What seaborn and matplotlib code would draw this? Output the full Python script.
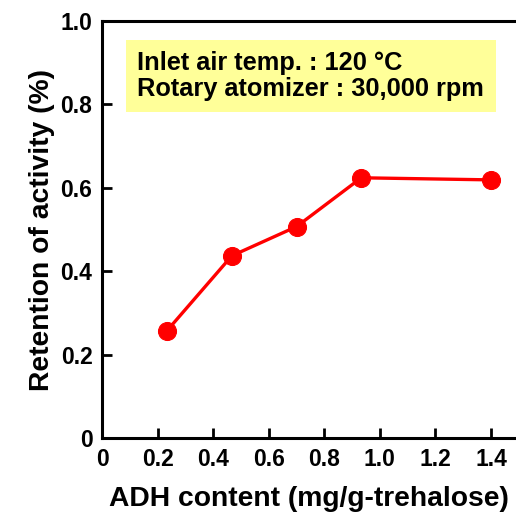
import matplotlib
matplotlib.use("Agg")
import matplotlib.pyplot as plt
import seaborn as sns
import pandas as pd

adh_content = [0.233, 0.467, 0.70, 0.933, 1.40]
retention = [0.257, 0.437, 0.507, 0.624, 0.619]
x_ticks = [0, 0.2, 0.4, 0.6, 0.8, 1.0, 1.2, 1.4]
x_tick_labels = ["0", "0.2", "0.4", "0.6", "0.8", "1.0", "1.2", "1.4"]
y_ticks = [0, 0.2, 0.4, 0.6, 0.8, 1.0]
y_tick_labels = ["0", "0.2", "0.4", "0.6", "0.8", "1.0"]

sns.set_style("ticks")
plt.rcParams["font.family"] = ["Liberation Sans", "DejaVu Sans"]
plt.rcParams["font.weight"] = "bold"
plt.rcParams["text.color"] = "black"
plt.rcParams["axes.labelcolor"] = "black"
plt.rcParams["xtick.color"] = "black"
plt.rcParams["ytick.color"] = "black"

df = pd.DataFrame({"x": adh_content, "y": retention})

fig = plt.figure(figsize=(5.16, 5.12), dpi=100)
ax = fig.add_axes([0.198, 0.1445, 0.802, 0.8145])

sns.lineplot(data=df, x="x", y="y", ax=ax, color="#ff0000", linewidth=2.4,
             marker="o", markersize=13, markeredgecolor="#ff0000",
             markerfacecolor="#ff0000")

ax.set_xlim(0, 1.49)
ax.set_ylim(0, 1.0)
ax.set_xticks(x_ticks)
ax.set_xticklabels(x_tick_labels)
ax.set_yticks(y_ticks)
ax.set_yticklabels(y_tick_labels)
ax.tick_params(direction="in", length=7, width=2, labelsize=16.5, pad=7, colors="black")
for lab in ax.get_xticklabels() + ax.get_yticklabels():
    lab.set_fontweight("bold")

for s in ["left", "bottom", "top"]:
    ax.spines[s].set_linewidth(2.2)
    ax.spines[s].set_color("black")
ax.spines["right"].set_visible(False)

ax.set_xlabel("ADH content (mg/g-trehalose)", fontsize=20.3, fontweight="bold", labelpad=11)
ax.set_ylabel("Retention of activity (%)", fontsize=20.3, fontweight="bold", labelpad=4)

ax.text(0.085, 0.868, "Inlet air temp. : 120 \u00b0C\nRotary atomizer : 30,000 rpm",
        transform=ax.transAxes, fontsize=18.3, fontweight="bold", va="center", ha="left",
        linespacing=1.08,
        bbox=dict(boxstyle="square,pad=0.45", facecolor="#ffff99", edgecolor="none"))

fig.savefig("out.png", dpi=100)
